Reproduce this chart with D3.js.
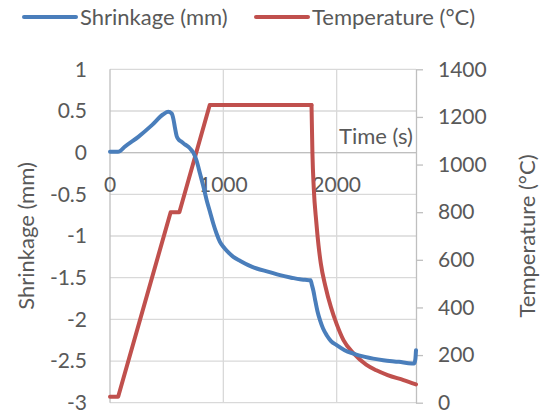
<!DOCTYPE html>
<html>
<head>
<meta charset="utf-8">
<script src="https://cdn.jsdelivr.net/npm/d3@7"></script>
<style>
  body { margin: 0; background: #fff; }
  text { font-family: Lato, "Open Sans", sans-serif; fill: #595959; }
</style>
</head>
<body>
<script>
// time (s) and shrinkage (mm)
var shrinkTime = [0, 70, 90, 130, 250, 370, 470, 514, 544, 560, 573, 588, 610, 632, 660, 691, 706, 735, 765, 794, 823, 853, 882, 911, 940, 970, 1000, 1040, 1088, 1150, 1220, 1294, 1400, 1500, 1600, 1676, 1720, 1770, 1780, 1795, 1809, 1830, 1853, 1880, 1912, 1950, 2000, 2070, 2147, 2250, 2411, 2550, 2662, 2685, 2695, 2700];
var shrinkVal  = [0.01, 0.01, 0.02, 0.07, 0.19, 0.33, 0.46, 0.49, 0.47, 0.40, 0.30, 0.20, 0.15, 0.13, 0.10, 0.07, 0.05, 0.00, -0.10, -0.25, -0.40, -0.57, -0.71, -0.85, -0.97, -1.07, -1.13, -1.19, -1.25, -1.30, -1.35, -1.39, -1.43, -1.47, -1.50, -1.52, -1.525, -1.53, -1.58, -1.66, -1.76, -1.90, -2.01, -2.11, -2.19, -2.26, -2.31, -2.37, -2.41, -2.45, -2.49, -2.51, -2.53, -2.53, -2.47, -2.37];

// heating program: time (s) and temperature (°C), straight segments
var heatTime = [0, 72, 535, 612, 880, 1778];
var heatVal  = [25, 25, 800, 800, 1250, 1250];
// cooling curve after the hold
var coolTime = [1778, 1786, 1798, 1820, 1840, 1860, 1900, 1950, 2000, 2060, 2150, 2260, 2350, 2450, 2590, 2700];
var coolVal  = [1250, 1050, 900, 760, 660, 585, 490, 400, 330, 263, 207, 160, 136, 116, 95, 77];

var xTicks = [0, 1000, 2000];
var yTicks = [-3, -2.5, -2, -1.5, -1, -0.5, 0, 0.5, 1];
var tTicks = [0, 200, 400, 600, 800, 1000, 1200, 1400];

var W = 543, H = 416;
var pL = 110, pR = 416, pT = 69.3, pB = 402.7;

var x = d3.scaleLinear().domain([0, 2700]).range([pL, pR]);
var y = d3.scaleLinear().domain([-3, 1]).range([pB, pT]);
var yT = d3.scaleLinear().domain([0, 1400]).range([pB, pT]);

var svg = d3.select("body").append("svg")
    .attr("width", W)
    .attr("height", H);

// gridlines
svg.append("g").selectAll("line").data(yTicks).join("line")
    .attr("x1", pL).attr("x2", pR)
    .attr("y1", d => y(d)).attr("y2", d => y(d))
    .attr("stroke", "#d9d9d9").attr("stroke-width", 1.3);
svg.append("g").selectAll("line").data(xTicks.slice(1)).join("line")
    .attr("x1", d => x(d)).attr("x2", d => x(d))
    .attr("y1", pT).attr("y2", pB)
    .attr("stroke", "#d9d9d9").attr("stroke-width", 1.3);

// axis lines
svg.append("line").attr("x1", pL).attr("x2", pL).attr("y1", pT).attr("y2", pB)
    .attr("stroke", "#bfbfbf").attr("stroke-width", 1.3);
svg.append("line").attr("x1", pL).attr("x2", pR).attr("y1", y(0)).attr("y2", y(0))
    .attr("stroke", "#bfbfbf").attr("stroke-width", 1.3);

// right axis
var rAxis = svg.append("g")
    .attr("transform", "translate(" + pR + ",0)")
    .call(d3.axisRight(yT).tickValues(tTicks).tickFormat(d3.format("d"))
        .tickSize(7).tickPadding(15).tickSizeOuter(0));
rAxis.select(".domain").attr("stroke", "#bfbfbf").attr("stroke-width", 1.3);
rAxis.selectAll(".tick line").attr("stroke", "#bfbfbf").attr("stroke-width", 1.3);
rAxis.selectAll("text").style("font-size", "21px").style("fill", "#595959")
    .style("font-family", "Lato, 'Open Sans', sans-serif");

// left tick labels
svg.append("g").selectAll("text").data(yTicks).join("text")
    .attr("x", 87).attr("y", d => y(d)).attr("dy", "0.35em")
    .attr("text-anchor", "end").style("font-size", "21px")
    .text(d => d);

// x tick labels
svg.append("g").selectAll("text").data(xTicks).join("text")
    .attr("x", d => x(d)).attr("y", 192)
    .attr("text-anchor", "middle").style("font-size", "21px")
    .text(d => d);

// titles
svg.append("text").attr("x", 413).attr("y", 144).attr("text-anchor", "end")
    .style("font-size", "22px").text("Time (s)");
svg.append("text").attr("transform", "translate(34,236) rotate(-90)")
    .attr("text-anchor", "middle").style("font-size", "22px").text("Shrinkage (mm)");
svg.append("text").attr("transform", "translate(535,236) rotate(-90)")
    .attr("text-anchor", "middle").style("font-size", "22px").text("Temperature (°C)");

// series
var shrinkData = shrinkTime.map((t, i) => [t, shrinkVal[i]]);
var heatData = heatTime.map((t, i) => [t, heatVal[i]]);
var coolData = coolTime.map((t, i) => [t, coolVal[i]]);

var tLine = d3.line().x(d => x(d[0])).y(d => yT(d[1]));
var red = "#c0504d", blue = "#4a7ebb";

svg.append("path").datum(heatData)
    .attr("fill", "none").attr("stroke", red).attr("stroke-width", 4)
    .attr("stroke-linejoin", "round").attr("stroke-linecap", "round")
    .attr("d", tLine.curve(d3.curveLinear));
svg.append("path").datum(coolData)
    .attr("fill", "none").attr("stroke", red).attr("stroke-width", 4)
    .attr("stroke-linejoin", "round").attr("stroke-linecap", "round")
    .attr("d", tLine.curve(d3.curveMonotoneX));

svg.append("path").datum(shrinkData)
    .attr("fill", "none").attr("stroke", blue).attr("stroke-width", 4)
    .attr("stroke-linejoin", "round").attr("stroke-linecap", "round")
    .attr("d", d3.line().x(d => x(d[0])).y(d => y(d[1])).curve(d3.curveMonotoneX));

// legend
var legend = [["Shrinkage (mm)", blue, 24], ["Temperature (°C)", red, 256]];
var lg = svg.append("g").selectAll("g").data(legend).join("g");
lg.append("line").attr("x1", d => d[2]).attr("x2", d => d[2] + 52)
    .attr("y1", 17).attr("y2", 17)
    .attr("stroke", d => d[1]).attr("stroke-width", 4).attr("stroke-linecap", "round");
lg.append("text").attr("x", d => d[2] + 56).attr("y", 17).attr("dy", "0.35em")
    .style("font-size", "22px").text(d => d[0]);
</script>
</body>
</html>
